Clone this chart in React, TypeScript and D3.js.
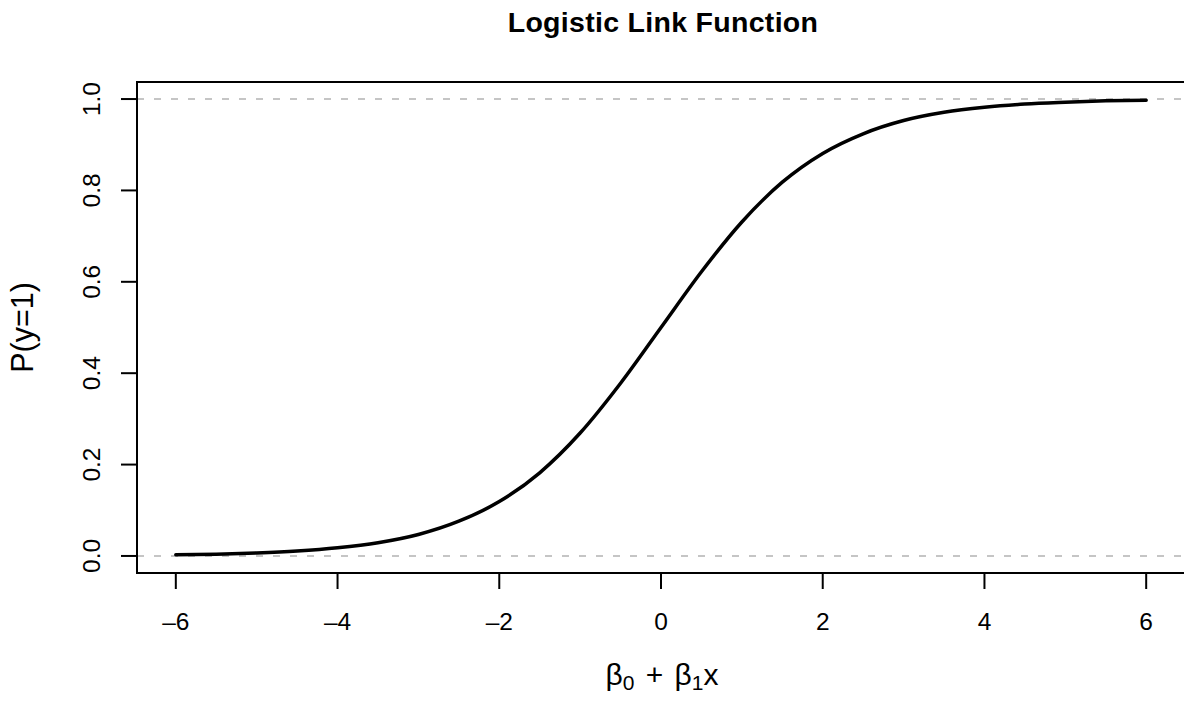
import React from "react";
import * as d3 from "d3";

// linear predictor values and the probability
const etaValues = [
  -6, -5.5, -5, -4.5, -4, -3.5, -3, -2.5, -2, -1.5, -1, -0.5, 0, 0.5, 1, 1.5, 2,
  2.5, 3, 3.5, 4, 4.5, 5, 5.5, 6,
];
const probValues = [
  0.0025, 0.004, 0.0067, 0.011, 0.018, 0.029, 0.047, 0.076, 0.119, 0.182,
  0.269, 0.378, 0.5, 0.622, 0.731, 0.818, 0.881, 0.924, 0.953, 0.971, 0.982,
  0.989, 0.993, 0.996, 0.9975,
];
const xTicks = [-6, -4, -2, 0, 2, 4, 6];
const yTicks = [0, 0.2, 0.4, 0.6, 0.8, 1];
const refLines = [0, 1];

const W = 1184;
const H = 702;
const FONT = "'Liberation Sans', Arial, Helvetica, sans-serif";

const App = () => {
  // plot region (R style: 4% padding around the data range)
  const x = d3.scaleLinear().domain([-6.48, 6.48]).range([137, 1185]);
  const y = d3.scaleLinear().domain([-0.0373, 1.0373]).range([573, 82]);

  const points = etaValues.map((e, i) => [e, probValues[i]] as [number, number]);
  const line = d3
    .line<[number, number]>()
    .x((d) => x(d[0]))
    .y((d) => y(d[1]))
    .curve(d3.curveMonotoneX);

  const [x0, x1] = x.range();
  const [yb, yt] = y.range();
  const tickLen = 16;

  return (
    <svg
      width={W}
      height={H}
      style={{ position: "absolute", left: 0, top: 0, background: "#fff" }}
      fontFamily={FONT}
    >
      <text x={663} y={32} textAnchor="middle" fontSize={28.5} fontWeight="bold" letterSpacing={0.3}>
        Logistic Link Function
      </text>

      {/* reference lines */}
      {refLines.map((v) => (
        <line
          key={v}
          x1={x0}
          x2={x1}
          y1={y(v)}
          y2={y(v)}
          stroke="#b3b3b3"
          strokeWidth={1.5}
          strokeDasharray="7,10"
        />
      ))}

      <path d={line(points) ?? ""} fill="none" stroke="#000" strokeWidth={3.5} strokeLinecap="round" />

      {/* box */}
      <rect x={x0} y={yt} width={x1 - x0} height={yb - yt} fill="none" stroke="#000" strokeWidth={2} />

      {/* x axis */}
      <line x1={x(-6)} x2={x(6)} y1={yb} y2={yb} stroke="#000" strokeWidth={2} />
      {xTicks.map((t) => (
        <g key={t}>
          <line x1={x(t)} x2={x(t)} y1={yb} y2={yb + tickLen} stroke="#000" strokeWidth={2} />
          <text x={x(t)} y={630} textAnchor="middle" fontSize={24.5}>
            {t < 0 ? `\u2013${Math.abs(t)}` : t}
          </text>
        </g>
      ))}

      {/* y axis */}
      {yTicks.map((t) => (
        <g key={t}>
          <line x1={x0 - tickLen} x2={x0} y1={y(t)} y2={y(t)} stroke="#000" strokeWidth={2} />
          <text
            transform={`translate(100,${y(t)}) rotate(-90)`}
            textAnchor="middle"
            fontSize={24.5}
          >
            {t.toFixed(1)}
          </text>
        </g>
      ))}

      {/* axis titles */}
      <text x={662} y={685} textAnchor="middle" fontSize={30}>
        β<tspan fontSize={21} dy={5}>0</tspan>
        <tspan dy={-5} dx={3}> + </tspan>
        <tspan dx={3}>β</tspan>
        <tspan fontSize={21} dy={5}>1</tspan>
        <tspan dy={-5}>x</tspan>
      </text>
      <text
        transform={`translate(33,${(yb + yt) / 2}) rotate(-90)`}
        textAnchor="middle"
        fontSize={30.5}
      >
        P(y=1)
      </text>
    </svg>
  );
};

export default App;
